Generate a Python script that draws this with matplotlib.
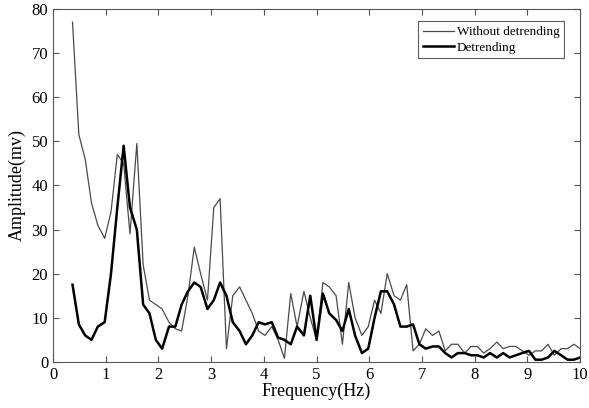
import matplotlib
matplotlib.use("Agg")
import matplotlib.pyplot as plt

freq = [0.37, 0.49, 0.61, 0.73, 0.85, 0.98, 1.10, 1.22, 1.34, 1.46, 1.59, 1.71, 1.83, 1.95,
        2.07, 2.20, 2.32, 2.44, 2.56, 2.68, 2.80, 2.93, 3.05, 3.17, 3.29, 3.41, 3.54, 3.66,
        3.78, 3.90, 4.02, 4.15, 4.27, 4.39, 4.51, 4.63, 4.76, 4.88, 5.00, 5.12, 5.24, 5.37,
        5.49, 5.61, 5.73, 5.86, 5.98, 6.10, 6.22, 6.34, 6.47, 6.59, 6.71, 6.83, 6.95, 7.07,
        7.20, 7.32, 7.44, 7.56, 7.68, 7.81, 7.93, 8.05, 8.17, 8.29, 8.42, 8.54, 8.66, 8.78,
        8.90, 9.03, 9.15, 9.27, 9.39, 9.51, 9.64, 9.76, 9.88, 10.0]

without_detrending = [77, 51.5, 46, 36, 31, 28, 34, 47, 45, 29, 49.5, 22, 14, 13,
                      12, 9, 7.5, 7, 15, 26, 20, 14, 35, 37, 3, 15, 17, 14,
                      11, 7, 6, 8, 5, 0.8, 15.5, 8, 16, 10, 5, 18, 17, 15,
                      4, 18, 10, 6, 8, 14, 11, 20, 15, 14, 17.5, 2.5, 4, 7.5,
                      6, 7, 2.5, 4, 4, 2, 3.5, 3.5, 2, 3, 4.5, 3, 3.5, 3.5,
                      2.5, 1.5, 2.5, 2.5, 4, 1.5, 3, 3, 4, 3]

detrending = [17.5, 8.5, 6, 5, 8, 9, 20, 35, 49, 35, 30, 13, 11, 5,
              3, 8, 8, 13, 16, 18, 17, 12, 14, 18, 15, 9, 7, 4,
              6, 9, 8.5, 9, 5.5, 5, 4, 8, 6, 15, 5, 15.5, 11, 9.5,
              7, 12, 6, 2, 3, 10, 16, 16, 13, 8, 8, 8.5, 4, 3,
              3.5, 3.5, 2, 1, 2, 2, 1.5, 1.5, 1, 2, 1, 2, 1, 1.5,
              2, 2.5, 0.5, 0.5, 1, 2.5, 1.5, 0.5, 0.5, 1]

plt.rcParams['font.family'] = ['Liberation Serif', 'DejaVu Serif']

fig = plt.figure(figsize=(5.89, 4.08), dpi=100)
ax = fig.add_axes([0.09, 0.113, 0.895, 0.865])

ax.plot(freq, without_detrending, color='#4a4a4a', lw=0.9, label='Without detrending')
ax.plot(freq, detrending, color='black', lw=1.8, label='Detrending')

ax.set_xlim(0, 10)
ax.set_ylim(0, 80)
ax.set_xticks(range(0, 11))
ax.set_yticks(range(0, 81, 10))
ax.tick_params(direction='in', top=True, right=True, labelsize=12, length=4, color='#555555')
for s in ax.spines.values():
    s.set_color('#555555')
ax.set_xlabel('Frequency(Hz)', fontsize=13, labelpad=0)
ax.set_ylabel('Amplitude(mv)', fontsize=13, labelpad=4)

leg = ax.legend(loc='upper right', bbox_to_anchor=(0.97, 0.965), fontsize=9.5, frameon=True,
                fancybox=False, edgecolor='#333333', handlelength=2.4, handletextpad=0.2,
                borderpad=0.35, labelspacing=0.25, borderaxespad=0)
leg.get_frame().set_linewidth(0.8)

fig.savefig('out.png', dpi=100)
